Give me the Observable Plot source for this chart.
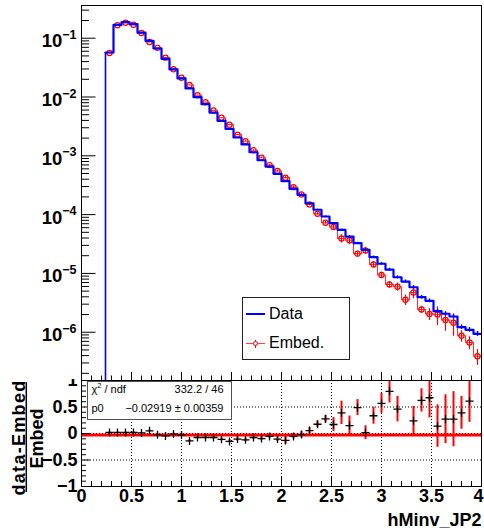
<!DOCTYPE html>
<html><head><meta charset="utf-8">
<script src="https://cdn.jsdelivr.net/npm/d3@7"></script>
<script src="https://cdn.jsdelivr.net/npm/@observablehq/plot@0.6"></script>
<style>
body{margin:0;background:#fff;}
#wrap{position:relative;width:484px;height:531px;overflow:hidden;background:#fff;font-family:"Liberation Sans",Arial,Helvetica,sans-serif;}
#wrap svg{position:absolute;left:0;}
.box{position:absolute;box-sizing:border-box;background:#fff;}
.t{position:absolute;white-space:nowrap;line-height:1;}
</style></head><body><div id="wrap"></div>
<script>
// ---------------- data ----------------
const binEdges = [0.24,0.32,0.40,0.48,0.56,0.64,0.72,0.80,0.88,0.96,1.04,1.12,1.20,1.28,1.36,1.44,1.52,1.60,1.68,1.76,1.84,1.92,2.00,2.08,2.16,2.24,2.32,2.40,2.48,2.56,2.64,2.72,2.80,2.88,2.96,3.04,3.12,3.20,3.28,3.36,3.44,3.52,3.60,3.68,3.76,3.84,3.92,4.00];
const dataVals = [0.0571,0.169,0.187,0.173,0.124,0.0903,0.0668,0.0446,0.0294,0.0207,0.0140,0.00993,0.00755,0.00544,0.00394,0.00288,0.00205,0.00156,0.00115,0.000841,0.000657,0.000494,0.000370,0.000275,0.000217,0.000156,0.000121,9.29e-5,7.15e-5,5.51e-5,4.24e-5,3.27e-5,2.52e-5,1.89e-5,1.46e-5,1.16e-5,8.61e-6,7.28e-6,5.82e-6,3.94e-6,3.42e-6,2.28e-6,2.06e-6,1.85e-6,1.22e-6,1.10e-6,9.4e-7];
const dataRelErr = [0.002,0.001,0.001,0.001,0.001,0.002,0.002,0.002,0.003,0.003,0.004,0.004,0.005,0.005,0.006,0.007,0.008,0.009,0.010,0.011,0.012,0.013,0.015,0.016,0.018,0.020,0.022,0.025,0.028,0.031,0.034,0.038,0.042,0.047,0.052,0.056,0.060,0.064,0.066,0.072,0.075,0.080,0.082,0.085,0.090,0.092,0.095];
const embedVals = [0.0560,0.1657,0.1833,0.1696,0.1228,0.0860,0.0685,0.0467,0.0297,0.0213,0.0160,0.01074,0.00816,0.00588,0.00443,0.00339,0.00229,0.00177,0.00124,0.000929,0.000695,0.000552,0.000425,0.000293,0.000220,0.000149,0.000103,7.27e-5,6.15e-5,3.92e-5,3.66e-5,2.17e-5,2.46e-5,1.42e-5,9.4e-6,6.47e-6,5.94e-6,3.56e-6,4.74e-6,2.43e-6,2.05e-6,2.0e-6,1.62e-6,1.45e-6,8.7e-7,6.7e-7,3.9e-7];
const embedRelErr = [0.003,0.002,0.002,0.002,0.002,0.003,0.003,0.004,0.005,0.006,0.007,0.008,0.010,0.011,0.013,0.015,0.017,0.020,0.022,0.025,0.028,0.032,0.040,0.045,0.050,0.055,0.050,0.055,0.11,0.16,0.16,0.10,0.13,0.12,0.12,0.12,0.16,0.20,0.22,0.14,0.23,0.35,0.36,0.41,0.22,0.25,0.30];
const ratioVals = [0.02,0.02,0.02,0.02,0.01,0.05,-0.025,-0.045,-0.01,-0.03,-0.14,-0.075,-0.075,-0.075,-0.11,-0.15,-0.105,-0.12,-0.075,-0.095,-0.055,-0.105,-0.13,-0.055,-0.02,0.055,0.175,0.275,0.17,0.39,0.15,0.49,0.015,0.335,0.57,0.795,0.46,1.05,0.24,0.625,0.675,0.14,0.27,0.27,0.39,0.61,1.4];
const ratioErr = [0.01,0.01,0.01,0.01,0.01,0.015,0.015,0.02,0.02,0.02,0.025,0.025,0.025,0.03,0.03,0.03,0.035,0.035,0.04,0.04,0.045,0.05,0.07,0.05,0.06,0.06,0.06,0.07,0.13,0.22,0.18,0.15,0.13,0.16,0.19,0.22,0.24,0.30,0.27,0.22,0.38,0.40,0.46,0.52,0.31,0.40,0.50];
const fitP0 = -0.02919;
const statsLines = [["χ2 / ndf", "332.2 / 46"], ["p0", "−0.02919 ± 0.00359"]];
const legendLabels = ["Data", "Embed."];
const xTickLabels = [0,0.5,1,1.5,2,2.5,3,3.5,4];
const yLogTicks = [1e-6,1e-5,1e-4,1e-3,1e-2,1e-1];
const ratioTicks = [-1,-0.5,0,0.5,1];
const xTitle = "hMinv_JP2";
const ratioTitleNum = "data-Embed";
const ratioTitleDen = "Embed";

// ---------------- layout ----------------
const FONT = '"Liberation Sans", Arial, Helvetica, sans-serif';
const BLUE = "#0000ff", RED = "#ff0000";
const frameW = 400;
const yDomain = [1.51e-7, 0.3599];

const centers = dataVals.map((_, i) => (binEdges[i] + binEdges[i + 1]) / 2);
const stepRows = vals => binEdges.map((e, i) => ({x: e, y: vals[Math.min(i, vals.length - 1)]}));
const embedRows = embedVals.map((v, i) => ({c: centers[i], v, lo: v * (1 - embedRelErr[i]), hi: v * (1 + embedRelErr[i])}));
const dataRows = dataVals.map((v, i) => ({c: centers[i], v, lo: v * (1 - dataRelErr[i]), hi: v * (1 + dataRelErr[i])}));
const ratioRows = ratioVals.map((r, i) => ({c: centers[i], r, lo: r - ratioErr[i], hi: r + ratioErr[i]})).filter(d => d.r <= 1 && d.r >= -1);

const yMinor = [];
for (let k = -7; k <= -1; k++) for (let m = 2; m <= 9; m++) { const v = m * Math.pow(10, k); if (v >= yDomain[0] && v <= yDomain[1]) yMinor.push(v); }
const xMinor = d3.range(0, 41).map(i => i / 10).filter(v => !xTickLabels.includes(v));
const rMinor = d3.range(-10, 11).map(i => i / 10).filter(v => Math.abs(v * 2 - Math.round(v * 2)) > 1e-9);

const wrap = document.getElementById("wrap");

// ---------------- top panel ----------------
const topH = 381, topFrameH = 375;
const topPlot = Plot.plot({
  width: 484, height: topH, marginTop: 5, marginBottom: 1, marginLeft: 81, marginRight: 3,
  style: {fontFamily: FONT, background: "white"},
  x: {domain: [0, 4], axis: null, label: null},
  y: {type: "log", domain: yDomain, label: null},
  marks: [
    Plot.tickY(yLogTicks, {y: d => d, insetRight: frameW - 14.5, stroke: "black"}),
    Plot.tickY(yMinor, {y: d => d, insetRight: frameW - 8, stroke: "black"}),
    Plot.tickX(xTickLabels, {x: d => d, insetTop: topFrameH - 8, stroke: "black"}),
    Plot.tickX(xMinor, {x: d => d, insetTop: topFrameH - 4.5, stroke: "black"}),
    // Embed
    Plot.line(stepRows(embedVals), {x: "x", y: "y", curve: "step-after", stroke: RED, strokeWidth: 1.1, strokeOpacity: 0.8, clip: true}),
    Plot.ruleX(embedRows, {x: "c", y1: "lo", y2: "hi", stroke: RED, strokeWidth: 1.2, clip: true}),
    Plot.dot(embedRows, {x: "c", y: "v", r: 2.6, stroke: RED, strokeWidth: 1.2, fill: "none"}),
    // Data
    Plot.ruleX([binEdges[0]], {x: d => d, y1: () => dataVals[0], y2: () => yDomain[0], stroke: BLUE, strokeWidth: 1.6}),
    Plot.line(stepRows(dataVals), {x: "x", y: "y", curve: "step-after", stroke: BLUE, strokeWidth: 2.2, clip: true}),
    Plot.ruleX(dataRows, {x: "c", y1: "lo", y2: "hi", stroke: BLUE, strokeWidth: 1.4, clip: true}),
    Plot.frame({stroke: "black"}),
    Plot.axisY({ticks: yLogTicks, anchor: "left", label: null, tickSize: 0, tickPadding: 5, fontSize: 18.5, fontWeight: "bold",
      tickFormat: d => "−" + Math.round(-Math.log10(d))})
  ]
});
topPlot.style.top = "0px";
wrap.appendChild(topPlot);
d3.select(topPlot).selectAll('g[aria-label="y-axis tick label"] text').each(function () {
  const t = d3.select(this);
  const exp = t.text();
  t.text(null).attr("y", "0.49em");
  t.append("tspan").text("10");
  t.append("tspan").attr("dy", -8.5).attr("font-size", 12.5).text(exp);
});

// ---------------- ratio panel ----------------
const botH = 152, botFrameH = 106;
const botPlot = Plot.plot({
  width: 484, height: botH, marginTop: 1, marginBottom: 45, marginLeft: 81, marginRight: 3,
  style: {fontFamily: FONT, background: "none"},
  x: {domain: [0, 4], label: null},
  y: {domain: [-1, 1], label: null},
  marks: [
    Plot.ruleX(xTickLabels.filter(v => v > 0 && v < 4), {x: d => d, stroke: "black", strokeDasharray: "1,2"}),
    Plot.ruleY(ratioTicks.filter(v => v > -1 && v < 1), {y: d => d, stroke: "black", strokeDasharray: "1,2"}),
    Plot.ruleY([fitP0], {y: d => d, stroke: RED, strokeWidth: 3}),
    Plot.ruleX(ratioRows, {x: "c", y1: "lo", y2: "hi", stroke: RED, strokeWidth: 2, clip: true}),
    Plot.dot(ratioRows, {x: "c", y: "r", symbol: "plus", r: 2.7, stroke: "black", strokeWidth: 1.3}),
    Plot.tickY(ratioTicks, {y: d => d, insetRight: frameW - 9, stroke: "black"}),
    Plot.tickY(rMinor, {y: d => d, insetRight: frameW - 5, stroke: "black"}),
    Plot.tickX(xTickLabels, {x: d => d, insetTop: botFrameH - 9, stroke: "black"}),
    Plot.tickX(xMinor, {x: d => d, insetTop: botFrameH - 5, stroke: "black"}),
    Plot.frame({stroke: "black"}),
    Plot.axisY({ticks: ratioTicks, anchor: "left", label: null, tickSize: 0, tickPadding: 4, fontSize: 18, fontWeight: "bold",
      tickFormat: d => d === 0 ? "0" : (d < 0 ? "−" : "") + Math.abs(d)}),
    Plot.axisX({ticks: xTickLabels, anchor: "bottom", label: null, tickSize: 0, tickPadding: 3, fontSize: 18, fontWeight: "bold",
      tickFormat: d => String(d)}),
    Plot.text([xTitle], {frameAnchor: "bottom-right", text: d => d, textAnchor: "end", lineAnchor: "middle", dy: 34.2, fontSize: 18, fontWeight: "bold"}),
    Plot.text([ratioTitleNum], {frameAnchor: "left", text: d => d, rotate: -90, textAnchor: "middle", lineAnchor: "middle", dx: -61.8, dy: 4, fontSize: 18, fontWeight: "bold"}),
    Plot.text([ratioTitleDen], {frameAnchor: "left", text: d => d, rotate: -90, textAnchor: "middle", lineAnchor: "middle", dx: -44.3, dy: 5, fontSize: 18, fontWeight: "bold"})
  ]
});
botPlot.style.top = "379px";
wrap.appendChild(botPlot);
d3.select(botPlot).selectAll("text").filter(function () { return this.textContent === ratioTitleNum; }).attr("letter-spacing", "1.3px");
d3.select(botPlot).selectAll('g[aria-label="x-axis tick label"] text').filter(function () { return this.textContent === "4"; }).attr("dx", -3);
d3.select(botPlot).append("line").attr("x1", 26.3).attr("x2", 26.3).attr("y1", 3).attr("y2", 113).attr("stroke", "black").attr("stroke-width", 1.5);

// ---------------- stats box ----------------
const stats = document.createElement("div");
stats.className = "box";
Object.assign(stats.style, {left: "87px", top: "381px", width: "145px", height: "38.5px", border: "1.5px solid #505050", fontSize: "11px"});
statsLines.forEach(([k, v], i) => {
  const a = document.createElement("div"); a.className = "t";
  if (k.startsWith("χ2")) { a.innerHTML = 'χ<sup style="font-size:7.5px;vertical-align:5px;line-height:0">2</sup>' + k.slice(2); }
  else a.textContent = k;
  Object.assign(a.style, {left: "3.5px", top: (i === 0 ? 2 : 21) + "px"});
  const b = document.createElement("div"); b.className = "t"; b.textContent = v;
  Object.assign(b.style, {right: "7.5px", top: (i === 0 ? 2 : 21) + "px"});
  stats.appendChild(a); stats.appendChild(b);
});
wrap.appendChild(stats);

// ---------------- legend ----------------
const leg = document.createElement("div");
leg.className = "box";
Object.assign(leg.style, {left: "241.5px", top: "296.5px", width: "108px", height: "63px", border: "1px solid #222", fontSize: "16px"});
function seg(l, t, w, h, c, extra) { const d = document.createElement("div"); Object.assign(d.style, {position: "absolute", left: l + "px", top: t + "px", width: w + "px", height: h + "px", background: c}, extra || {}); leg.appendChild(d); }
seg(3.5, 15, 18.5, 2, BLUE);
seg(3.5, 45.5, 18.5, 1.2, "rgba(255,0,0,0.75)");
seg(12, 42, 1.2, 8, RED);
seg(10, 43.3, 3.2, 3.2, "#fff", {border: "1.2px solid " + RED, borderRadius: "50%"});
legendLabels.forEach((s, i) => {
  const d = document.createElement("div"); d.className = "t"; d.textContent = s;
  Object.assign(d.style, {left: "26.5px", top: (i === 0 ? 8 : 37) + "px"});
  leg.appendChild(d);
});
wrap.appendChild(leg);
</script>
</body></html>
